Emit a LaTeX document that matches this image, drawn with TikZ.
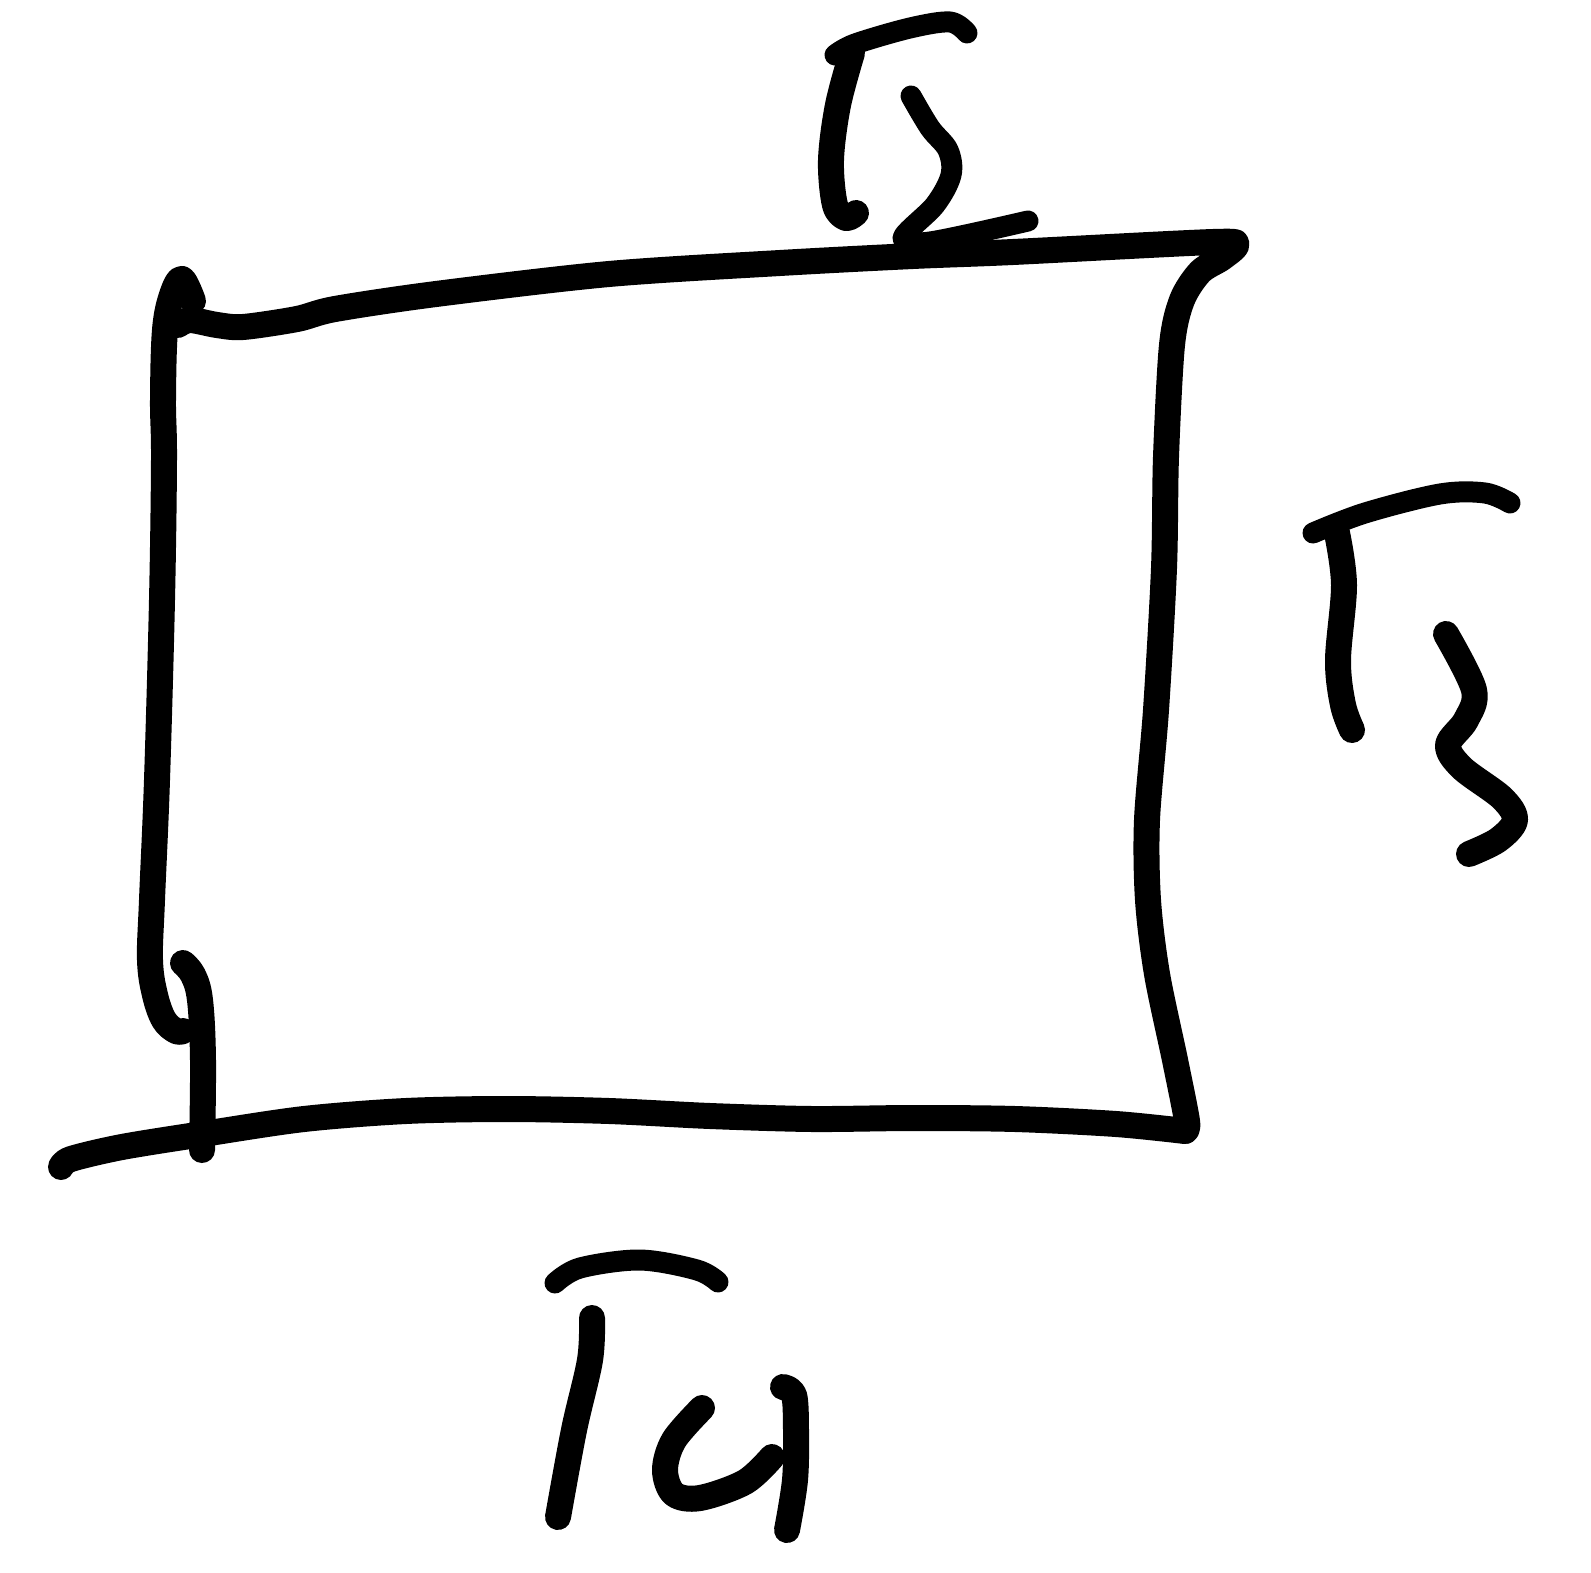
\documentclass[tikz,border=0pt]{standalone}
\begin{document}
\begin{tikzpicture}[x=1pt,y=-1pt,
  ink/.style={line width=26pt,line cap=round,line join=round},
  thin ink/.style={line width=21pt,line cap=round,line join=round}]
\useasboundingbox (0,0) rectangle (1591,1573);
% left side with top hook
\draw[ink] plot[smooth,tension=0.6] coordinates {(193,301) (182,279) (172,295) (165,330) (163,400) (164,460) (162,600) (157,780) (152,900) (150,960) (155,995) (164,1020) (176,1031) (183,1031)};
% top edge + right side
\draw[ink] plot[smooth,tension=0.5] coordinates {(178,325) (190,320) (217,325) (243,327) (297,319) (335,309) (436,294) (609,274) (780,263) (913,256) (1013,252) (1213,242) (1236,245) (1222,258) (1200,272) (1182,300) (1172,345) (1166,457) (1164,568) (1156,710) (1147,820) (1148,900) (1157,974) (1175,1060) (1187,1121) (1185,1131)};
% bottom edge
\draw[ink] plot[smooth,tension=0.5] coordinates {(1185,1131) (1116,1124) (1015,1119) (913,1118) (812,1119) (710,1116) (609,1111) (507,1109) (406,1111) (304,1119) (203,1134) (122,1147) (71,1159) (61,1167)};
% left lower stroke
\draw[ink] plot[smooth,tension=0.6] coordinates {(183,963) (193,975) (200,1000) (203,1060) (202,1150)};
% T2
\draw[thin ink] plot[smooth,tension=0.55] coordinates {(835,55) (855,44) (910,28) (950,22) (967,33)};
\draw[ink] plot[smooth,tension=0.55] coordinates {(852,53) (838,105) (831,160) (835,205) (846,218) (856,213)};
\draw[thin ink] plot[smooth,tension=0.55] coordinates {(911,96) (930,128) (948,150) (951,175) (935,205) (903,238) (930,242) (1028,221)};
% T3
\draw[thin ink] plot[smooth,tension=0.55] coordinates {(1313,533) (1365,513) (1440,494) (1485,493) (1510,503)};
\draw[ink] plot[smooth,tension=0.55] coordinates {(1337,533) (1344,585) (1338,660) (1343,705) (1352,730)};
\draw[ink] plot[smooth,tension=0.55] coordinates {(1446,634) (1474,690) (1466,720) (1448,745) (1462,768) (1502,798) (1515,820) (1498,840) (1469,854)};
% T4
\draw[thin ink] plot[smooth,tension=0.55] coordinates {(555,1283) (580,1268) (640,1260) (697,1270) (718,1282)};
\draw[ink] plot[smooth,tension=0.55] coordinates {(592,1318) (590,1360) (574,1430) (558,1517)};
\draw[ink] plot[smooth,tension=0.55] coordinates {(702,1408) (674,1440) (665,1470) (674,1494) (700,1498) (745,1482) (772,1457)};
\draw[ink] plot[smooth,tension=0.55] coordinates {(783,1387) (794,1395) (796,1430) (795,1480) (787,1530)};
\end{tikzpicture}
\end{document}
